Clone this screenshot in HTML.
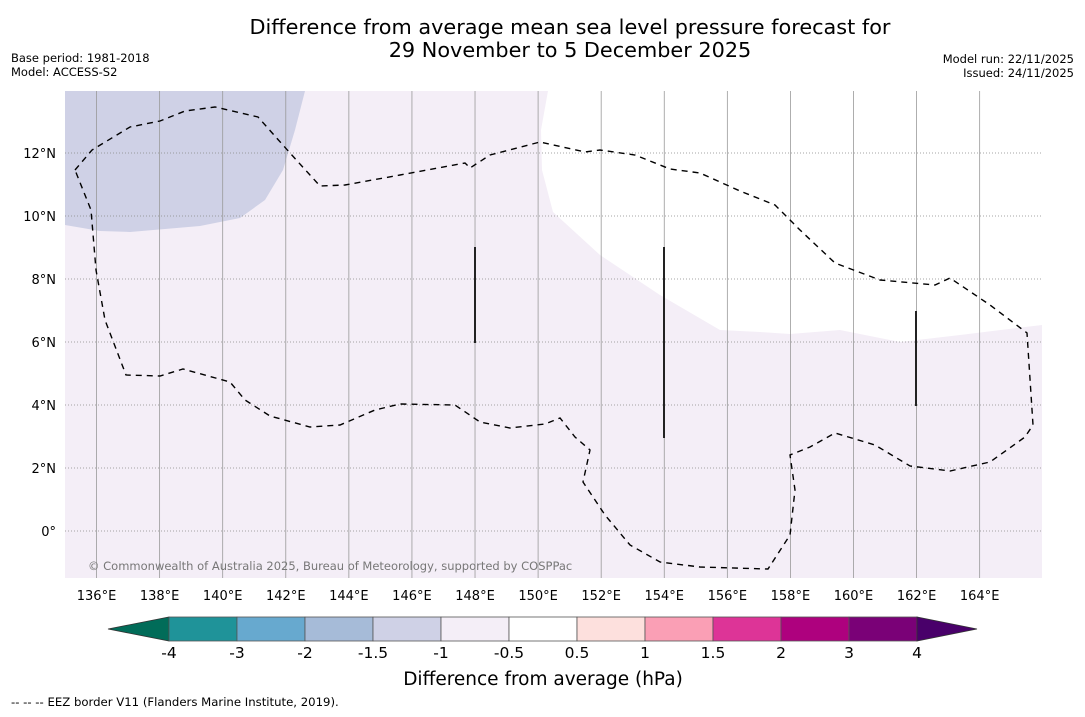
<!DOCTYPE html>
<html><head><meta charset="utf-8"><style>
body{margin:0;background:#fff;width:1085px;height:713px;overflow:hidden;font-family:"DejaVu Sans","Liberation Sans",sans-serif}
</style></head><body>
<svg width="1085" height="713" xmlns="http://www.w3.org/2000/svg" font-family="DejaVu Sans, Liberation Sans, sans-serif">
<text x="570" y="34" font-size="20.8" text-anchor="middle">Difference from average mean sea level pressure forecast for</text>
<text x="570" y="57" font-size="20.8" text-anchor="middle">29 November to 5 December 2025</text>
<text x="11" y="62" font-size="11.5">Base period: 1981-2018</text>
<text x="11" y="76" font-size="11.5">Model: ACCESS-S2</text>
<text x="1074" y="63" font-size="11.5" text-anchor="end">Model run: 22/11/2025</text>
<text x="1074" y="77" font-size="11.5" text-anchor="end">Issued: 24/11/2025</text>
<g>
<rect x="65" y="91" width="977" height="487" fill="#f4eef7"/>
<path d="M65,91 L305,91 L295,130 L283,170 L265,200 L240,218 L200,226 L130,232 L100,231 L65,225 Z" fill="#cfd1e6"/>
<path d="M548,91 L1042,91 L1042,325 L960,335 L900,342 L840,330 L790,334 L760,332 L720,330 L660,295 L600,255 L553,212 L542,170 L541,130 Z" fill="#ffffff"/>
<g id="grid"></g>
<path d="M75,170 L92,150 L130,127 L160,121 L185,111 L215,107 L258,117 L290,153 L320,186 L345,185 L400,175 L465,163 L470,168 L490,155 L540,142 L585,152 L600,150 L635,155 L670,169 L700,173 L740,191 L775,205 L800,230 L835,263 L880,280 L935,285 L950,278 L990,305 L1027,333 L1033,425 L1025,437 L990,462 L950,471 L910,466 L875,445 L835,433 L810,447 L790,455 L795,490 L790,535 L768,569 L700,567 L660,562 L630,545 L605,515 L583,482 L590,450 L575,437 L560,418 L545,424 L510,428 L480,422 L455,405 L400,404 L375,410 L340,425 L310,427 L270,416 L245,400 L230,382 L183,369 L160,376 L126,375 L105,320 L96,270 L91,210 Z" fill="none" stroke="#000" stroke-width="1.4" stroke-dasharray="6,5"/>
<line x1="475" y1="247" x2="475" y2="343" stroke="#222" stroke-width="2"/>
<line x1="664" y1="247" x2="664" y2="438" stroke="#222" stroke-width="2"/>
<line x1="916" y1="311" x2="916" y2="406" stroke="#222" stroke-width="2"/>
<text x="88" y="570" font-size="11.5" fill="#777">© Commonwealth of Australia 2025, Bureau of Meteorology, supported by COSPPac</text>
</g>
<g id="axes"></g>
<g id="cbar"></g>
<text x="543" y="685" font-size="18.5" text-anchor="middle">Difference from average (hPa)</text>
<text x="11" y="706" font-size="11.7">--  --  -- EEZ border V11 (Flanders Marine Institute, 2019).</text>
</svg>
<script>
const lonTicks=[136,138,140,142,144,146,148,150,152,154,156,158,160,162,164];
const latTicks=[12,10,8,6,4,2,0];
const cbarLevels=["-4","-3","-2","-1.5","-1","-0.5","0.5","1","1.5","2","3","4"];
const cbarColors=["#1f9399","#67a9cf","#a6bbd8","#cfd1e6","#f4eef7","#ffffff","#fde0dd","#fa9fb5","#dd3497","#ae017e","#7a0177"];
const ns="http://www.w3.org/2000/svg";
const X=lon=>65+(lon-135)*31.54;
const Y=lat=>531-lat*31.5;
function mk(tag,attrs,parent){const e=document.createElementNS(ns,tag);for(const k in attrs)e.setAttribute(k,attrs[k]);parent.appendChild(e);return e;}
const grid=document.getElementById('grid'),axes=document.getElementById('axes'),cb=document.getElementById('cbar');
lonTicks.forEach(l=>{
 const g=mk('line',{x1:X(l),x2:X(l),y1:91,y2:578,stroke:'#999','stroke-width':0.8},grid);
 
 
 const t=mk('text',{x:X(l),y:600,'font-size':13,'text-anchor':'middle'},axes);t.textContent=l+'°E';
 
 
});
latTicks.forEach(l=>{
 const g=mk('line',{x1:65,x2:1042,y1:Y(l),y2:Y(l),stroke:'#888','stroke-width':0.8,'stroke-dasharray':'1,2'},grid);
 
 
 const t=mk('text',{x:56,y:Y(l)+5,'font-size':13,'text-anchor':'end'},axes);t.textContent=l===0?'0°':l+'°N';
 
 
});
const cx=i=>169+i*68, cy0=617, cy1=641;
const lt=mk('polygon',{points:`108,629 ${cx(0)},${cy0} ${cx(0)},${cy1}`,fill:'#016c59',stroke:'#333','stroke-width':0.8},cb);


cbarColors.forEach((c,i)=>{
 const r=mk('rect',{x:cx(i),y:cy0,width:68,height:cy1-cy0,fill:c,stroke:'#555','stroke-width':0.8},cb);
 
 
});
const rt=mk('polygon',{points:`977,629 ${cx(11)},${cy0} ${cx(11)},${cy1}`,fill:'#49006a',stroke:'#333','stroke-width':0.8},cb);


cbarLevels.forEach((v,i)=>{
 const t=mk('text',{x:cx(i),y:658,'font-size':15.5,'text-anchor':'middle'},cb);t.textContent=v;
 
 
});
</script>
</body></html>
